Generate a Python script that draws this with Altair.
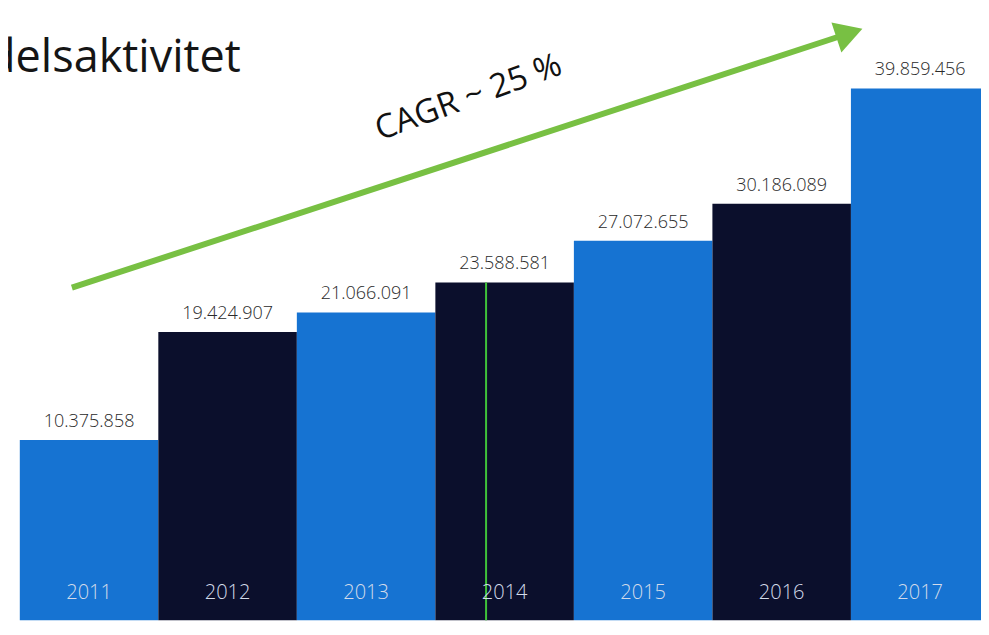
import altair as alt
import pandas as pd

# ---- data ----
years = ["2011", "2012", "2013", "2014", "2015", "2016", "2017"]
values = [10375858, 19424907, 21066091, 23588581, 27072655, 30186089, 39859456]
tones = ["blue", "dark", "blue", "dark", "blue", "dark", "blue"]

title_text = "Handelsaktivitet"
cagr_text = "CAGR ~ 25 %"

# annotation anchors, in data units (bar index, value)
title_anchor = [1.596, 41.2e6]
cagr_anchor = [3.239, 39.09e6]
arrow_from = [0.376, 23.15e6]
arrow_to = [5.966, 44.40e6]
arrow_head = [5.989, 44.49e6]
marker_year = "2014"
marker_offset = 0.366  # position inside the 2014 bar
year_label_level = -2.44e6
bar_base = -4.74e6

X_DOMAIN = [-0.0852, 6.939]
Y_DOMAIN = [-5.31e6, 46.6e6]

W, H = 973, 619

BLUE = "#1673d2"
DARK = "#0b0f2c"
GREEN = "#78c043"
FONT = "Open Sans"

df = pd.DataFrame({"year": years, "value": values, "tone": tones})
df["idx"] = range(len(df))
df["idx_end"] = df["idx"] + 1
df["mid"] = df["idx"] + 0.5
df["label"] = [f"{v:,}".replace(",", ".") for v in values]

xs = alt.Scale(domain=X_DOMAIN, nice=False, zero=False)
ys = alt.Scale(domain=Y_DOMAIN, nice=False, zero=False)


def X(field, **kw):
    return alt.X(field, type="quantitative", scale=xs, axis=None, **kw)


def Y(field, **kw):
    return alt.Y(field, type="quantitative", scale=ys, axis=None, **kw)


base = alt.Chart(df)

bars = base.mark_rect(clip=True).encode(
    x=X("idx"),
    x2="idx_end",
    y=Y("value"),
    y2=alt.datum(bar_base),
    color=alt.Color("tone:N", scale=alt.Scale(domain=["blue", "dark"], range=[BLUE, DARK]), legend=None),
)

value_labels = base.mark_text(
    font=FONT, fontSize=18, fontWeight=300, color="#2a2a2a", baseline="alphabetic", dy=-13
).encode(x=X("mid"), y=Y("value"), text="label:N")

year_labels = base.mark_text(
    font=FONT, fontSize=20, fontWeight=300, color="#d3dbea", baseline="middle"
).encode(x=X("mid"), y=alt.Y(datum=year_label_level, scale=ys, axis=None), text="year:N")

marker = base.transform_filter(alt.datum.year == marker_year).transform_calculate(
    mx=f"datum.idx + {marker_offset}"
).mark_rule(color="#3fc23a", strokeWidth=2, clip=True).encode(
    x=X("mx"), y=Y("value"), y2=alt.datum(bar_base)
)

ann = pd.DataFrame({
    "x1": [arrow_from[0]], "y1": [arrow_from[1]],
    "x2": [arrow_to[0]], "y2": [arrow_to[1]],
    "hx": [arrow_head[0]], "hy": [arrow_head[1]],
    "cx": [cagr_anchor[0]], "cy": [cagr_anchor[1]], "ctext": [cagr_text],
    "tx": [title_anchor[0]], "ty": [title_anchor[1]], "ttext": [title_text],
})
a = alt.Chart(ann)

arrow_line = a.mark_rule(color=GREEN, strokeWidth=6, strokeCap="butt").encode(
    x=X("x1"), y=Y("y1"), x2="x2", y2="y2"
)
arrow_tip = a.mark_point(shape="triangle-right", filled=True, color=GREEN, opacity=1,
                         size=1000, angle=341.7).encode(x=X("hx"), y=Y("hy"))

cagr = a.mark_text(font=FONT, fontSize=33, color="#111111", angle=340,
                   align="center", baseline="middle").encode(x=X("cx"), y=Y("cy"), text="ctext:N")

title = a.mark_text(font=FONT, fontSize=45, color="#151515", align="right",
                    baseline="alphabetic", clip=True).encode(x=X("tx"), y=Y("ty"), text="ttext:N")

chart = alt.layer(
    bars, marker, value_labels, year_labels, arrow_line, arrow_tip, cagr, title
).properties(
    width=W, height=H, padding=0, autosize=alt.AutoSizeParams(type="none"), background="white"
).configure_view(stroke=None)

chart.save("out.html", embed_options={"renderer": "svg", "actions": False})
